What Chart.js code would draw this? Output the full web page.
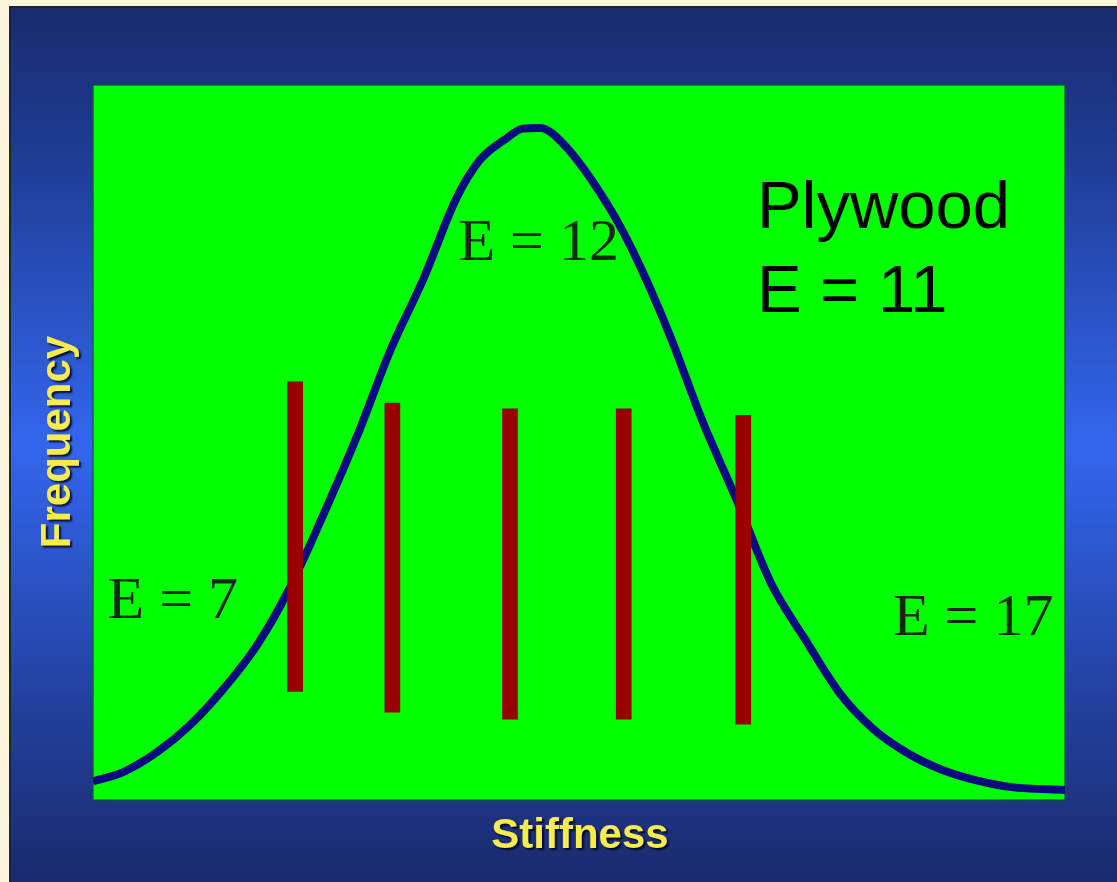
<!DOCTYPE html>
<html>
<head>
<meta charset="utf-8">
<title>Stiffness distribution</title>
<script src="https://cdn.jsdelivr.net/npm/chart.js@4/dist/chart.umd.min.js"></script>
<style>
  html, body { margin: 0; padding: 0; background: #fdf6dc; }
  #wrap { width: 1117px; height: 882px; }
</style>
</head>
<body>
<div id="wrap"><canvas id="chart" width="1117" height="882"></canvas></div>
<script>
// distribution curve (stiffness vs frequency, arbitrary 0-100 units)
const curveX = [0, 3.1, 6.6, 10.0, 13.4, 16.9, 20.3, 23.7, 27.2, 30.6, 34.0, 37.4, 39.8, 42.6, 44.2, 46.0,
  48.5, 53.1, 55.6, 59.2, 62.7, 66.3, 69.8, 73.3, 76.9, 80.3, 84.0, 87.4, 91.0, 94.5, 100];
const curveY = [2.6, 3.9, 6.7, 10.5, 15.5, 21.7, 29.8, 39.9, 51.0, 62.9, 72.9, 84.2, 89.5, 92.6, 93.9, 94.0,
  91.6, 82.9, 76.6, 65.5, 53.0, 41.7, 30.2, 22.4, 14.8, 9.9, 6.4, 4.2, 2.7, 1.8, 1.4];

// plies sampled from the distribution
const plyX = [20.8, 30.8, 42.9, 54.6, 66.9];
const plyLow = [15.2, 12.3, 11.3, 11.3, 10.6];
const plyHigh = [58.5, 55.5, 54.7, 54.7, 53.8];

const xTitle = "Stiffness";
const yTitle = "Frequency";
const lowLabel = "E = 7";
const peakLabel = "E = 12";
const highLabel = "E = 17";
const plywoodLines = ["Plywood", "E = 11"];

const backdrop = {
  id: "backdrop",
  beforeDraw(chart) {
    const { ctx, chartArea: a } = chart;
    ctx.save();
    ctx.fillStyle = "#fdf6dc";
    ctx.fillRect(0, 0, chart.width, chart.height);
    ctx.fillStyle = "#23252e";
    ctx.fillRect(9, 6, chart.width - 9, chart.height - 6);
    const g = ctx.createLinearGradient(0, 8, 0, chart.height);
    g.addColorStop(0, "#1a2c6e");
    g.addColorStop(0.15, "#1e3a8e");
    g.addColorStop(0.5, "#3366ee");
    g.addColorStop(0.8, "#22409c");
    g.addColorStop(1, "#1a2b6c");
    ctx.fillStyle = g;
    ctx.fillRect(11, 8, chart.width - 11, chart.height - 8);
    ctx.fillStyle = "#00ff00";
    ctx.fillRect(a.left, a.top, a.right - a.left, a.bottom - a.top);
    ctx.strokeStyle = "rgba(20,80,60,0.8)";
    ctx.lineWidth = 1.5;
    ctx.strokeRect(a.left, a.top, a.right - a.left, a.bottom - a.top);
    ctx.restore();
  },
  beforeDatasetsDraw(chart) {
    const { ctx, scales: { x, y } } = chart;
    ctx.save();
    ctx.fillStyle = "#142814";
    ctx.textBaseline = "alphabetic";
    ctx.font = "60px 'Liberation Serif', 'Times New Roman', serif";
    ctx.fillText(lowLabel, x.getPixelForValue(1.5), y.getPixelForValue(25.5));
    ctx.fillText(peakLabel, x.getPixelForValue(37.6), y.getPixelForValue(75.5));
    ctx.fillText(highLabel, x.getPixelForValue(82.3), y.getPixelForValue(23.1));
    ctx.fillStyle = "#000000";
    ctx.font = "67px 'Liberation Sans', Arial, sans-serif";
    ctx.fillText(plywoodLines[0], x.getPixelForValue(68.3), y.getPixelForValue(80));
    ctx.fillText(plywoodLines[1], x.getPixelForValue(68.3), y.getPixelForValue(68.3));
    ctx.restore();
  },
  afterDraw(chart) {
    const { ctx } = chart;
    ctx.save();
    ctx.font = "bold 42px 'Liberation Sans', Arial, sans-serif";
    ctx.fillStyle = "#f6ec4e";
    ctx.shadowColor = "rgba(0,0,30,0.85)";
    ctx.shadowOffsetX = 2;
    ctx.shadowOffsetY = 2;
    ctx.shadowBlur = 2;
    ctx.textAlign = "center";
    ctx.textBaseline = "middle";
    ctx.fillText(xTitle, 580, 836);
    ctx.translate(58, 442);
    ctx.rotate(-Math.PI / 2);
    ctx.fillText(yTitle, 0, 0);
    ctx.restore();
  }
};

new Chart(document.getElementById("chart"), {
  type: "line",
  data: {
    datasets: [
      {
        type: "bar",
        data: plyX.map((v, i) => ({ x: v, y: [plyLow[i], plyHigh[i]] })),
        backgroundColor: "#990000",
        barThickness: 15,
        order: 0,
      },
      {
        type: "line",
        data: curveX.map((v, i) => ({ x: v, y: curveY[i] })),
        borderColor: "#0a0a80",
        borderWidth: 8,
        pointRadius: 0,
        cubicInterpolationMode: "monotone",
        fill: false,
        order: 1,
      },
    ],
  },
  options: {
    responsive: false,
    animation: false,
    layout: { padding: { left: 93, right: 52, top: 85, bottom: 82 } },
    plugins: {
      legend: { display: false },
      tooltip: { enabled: false },
    },
    scales: {
      x: { type: "linear", min: 0, max: 100, offset: false, display: false },
      y: { min: 0, max: 100, display: false },
    },
  },
  plugins: [backdrop],
});
</script>
</body>
</html>
